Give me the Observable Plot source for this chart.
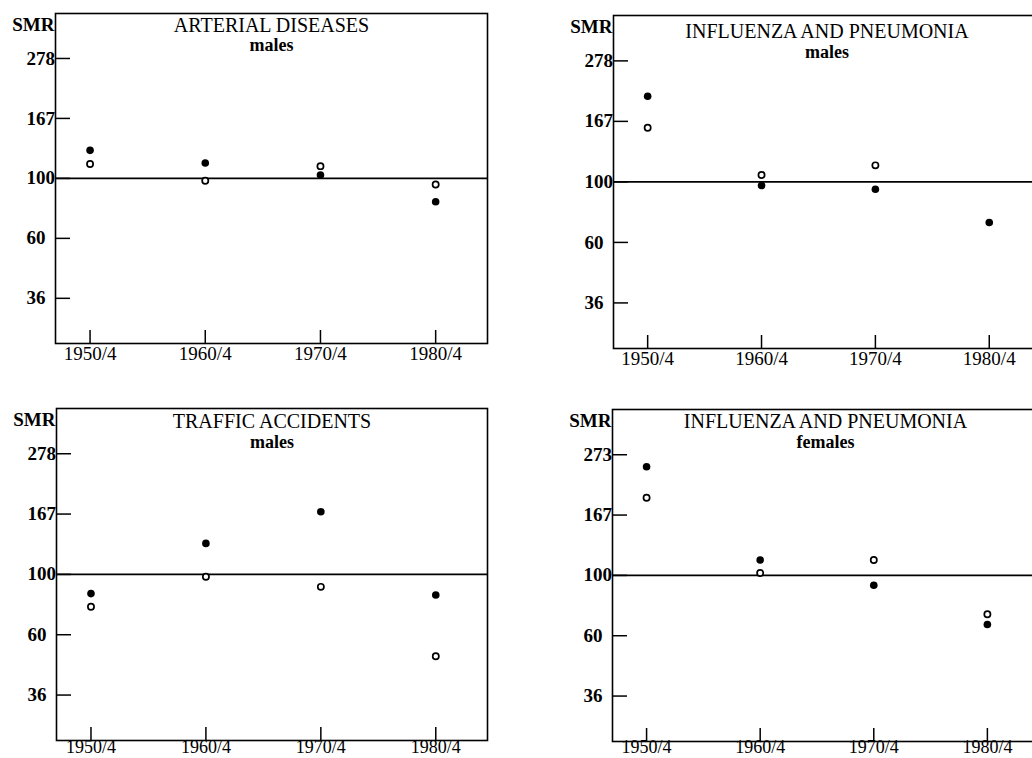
<!DOCTYPE html>
<html><head><meta charset="utf-8">
<script src="https://cdn.jsdelivr.net/npm/d3@7"></script>
<script src="https://cdn.jsdelivr.net/npm/@observablehq/plot@0.6"></script>
<style>
html,body{margin:0;padding:0;background:#fff;overflow:hidden;width:1032px;height:758px}
#root{position:relative;width:1032px;height:758px;overflow:hidden;background:#fff}
.panel{position:absolute}
</style></head><body><div id="root"></div>
<script>
// ---- data ----
const years = [1950, 1960, 1970, 1980];
const xTickLabels = ["1950/4", "1960/4", "1970/4", "1980/4"];
const yTickValues = [36, 60, 100, 166.7, 277.8];
const yTickLabels = ["36", "60", "100", "167", "278"];
const yTickLabelsFemales = ["36", "60", "100", "167", "273"];
const yAxisTitle = "SMR";
const referenceLevel = [100];

const titles = ["ARTERIAL DISEASES", "INFLUENZA AND PNEUMONIA", "TRAFFIC ACCIDENTS", "INFLUENZA AND PNEUMONIA"];
const subtitles = ["males", "males", "males", "females"];

const arterialFilled = [127, 114, 103, 82];
const arterialOpen = [113, 98, 111, 95];
const fluMalesFilled = [206, 97, 94, 71];
const fluMalesOpen = [158, 106, 115, null];
const trafficFilled = [85, 130, 170, 84];
const trafficOpen = [76, 98, 90, 50];
const fluFemalesFilled = [251, 114, 92, 66];
const fluFemalesOpen = [193, 102, 114, 72];

// ---- layout ----
const panels = [
  {left: 0, top: 0, width: 500, height: 372, ml: 55, mr: 13, mt: 13, mb: 29, title: titles[0], sub: subtitles[0], filled: arterialFilled, open: arterialOpen, yLabels: yTickLabels, td: 12, sd: 32, xdy: 3, xfs: 19},
  {left: 540, top: 0, width: 520, height: 375, ml: 73, mr: 20, mt: 15, mb: 27, title: titles[1], sub: subtitles[1], filled: fluMalesFilled, open: fluMalesOpen, yLabels: yTickLabels, td: 16, sd: 37, xdy: 3, xfs: 19},
  {left: 0, top: 380, width: 500, height: 378, ml: 56, mr: 13, mt: 28, mb: 18, title: titles[2], sub: subtitles[2], filled: trafficFilled, open: trafficOpen, yLabels: yTickLabels, td: 13, sd: 34, xdy: 0, xfs: 18},
  {left: 540, top: 380, width: 520, height: 378, ml: 72, mr: 22, mt: 29, mb: 17, title: titles[3], sub: subtitles[3], filled: fluFemalesFilled, open: fluFemalesOpen, yLabels: yTickLabelsFemales, td: 12, sd: 33, xdy: -1, xfs: 18}
];

const root = document.getElementById("root");
for (const cfg of panels) {
  const fw = cfg.width - cfg.ml - cfg.mr;
  const fh = cfg.height - cfg.mt - cfg.mb;
  const filled = years.map((y, i) => ({year: y, smr: cfg.filled[i]})).filter(d => d.smr != null);
  const open = years.map((y, i) => ({year: y, smr: cfg.open[i]})).filter(d => d.smr != null);
  const yt = yTickValues.map((v, i) => ({v, label: cfg.yLabels[i]}));
  const xt = years.map((y, i) => ({year: y, label: xTickLabels[i]}));
  const chart = Plot.plot({
    width: cfg.width,
    height: cfg.height,
    marginLeft: cfg.ml, marginRight: cfg.mr, marginTop: cfg.mt, marginBottom: cfg.mb,
    x: {domain: [1947, 1984.5], axis: null},
    y: {type: "log", domain: [24.5, 407.5], axis: null},
    style: {fontFamily: "'Liberation Serif', 'DejaVu Serif', serif", fontSize: "19px", color: "#000", background: "transparent", overflow: "visible"},
    marks: [
      Plot.frame({stroke: "#000", strokeWidth: 1.6}),
      Plot.ruleY(referenceLevel, {stroke: "#000", strokeWidth: 1.7}),
      Plot.tickY(yt, {y: "v", insetRight: fw - 15, stroke: "#000", strokeWidth: 1.5}),
      Plot.tickX(xt, {x: "year", insetTop: fh - 13, stroke: "#000", strokeWidth: 1.5}),
      Plot.text(yt, {y: "v", text: "label", frameAnchor: "left", textAnchor: "start", dx: -29, fill: "#000", fontSize: 19, fontWeight: "bold"}),
      Plot.text(xt, {x: "year", text: "label", frameAnchor: "bottom", lineAnchor: "top", dy: cfg.xdy, fill: "#000", fontSize: cfg.xfs}),
      Plot.text([yAxisTitle], {frameAnchor: "top-left", textAnchor: "end", lineAnchor: "middle", dx: -1, dy: 11, fill: "#000", fontSize: 19, fontWeight: "bold"}),
      Plot.text([cfg.title], {frameAnchor: "top", lineAnchor: "middle", dy: cfg.td, fill: "#000", fontSize: 20}),
      Plot.text([cfg.sub], {frameAnchor: "top", lineAnchor: "middle", dy: cfg.sd, fill: "#000", fontSize: 18, fontWeight: "bold"}),
      Plot.dot(filled, {x: "year", y: "smr", r: 3.8, fill: "#000", stroke: "none"}),
      Plot.dot(open, {x: "year", y: "smr", r: 3.1, fill: "#fff", stroke: "#000", strokeWidth: 1.7})
    ]
  });
  chart.classList.add("panel");
  chart.style.left = cfg.left + "px";
  chart.style.top = cfg.top + "px";
  root.appendChild(chart);
}
</script>
</body></html>
